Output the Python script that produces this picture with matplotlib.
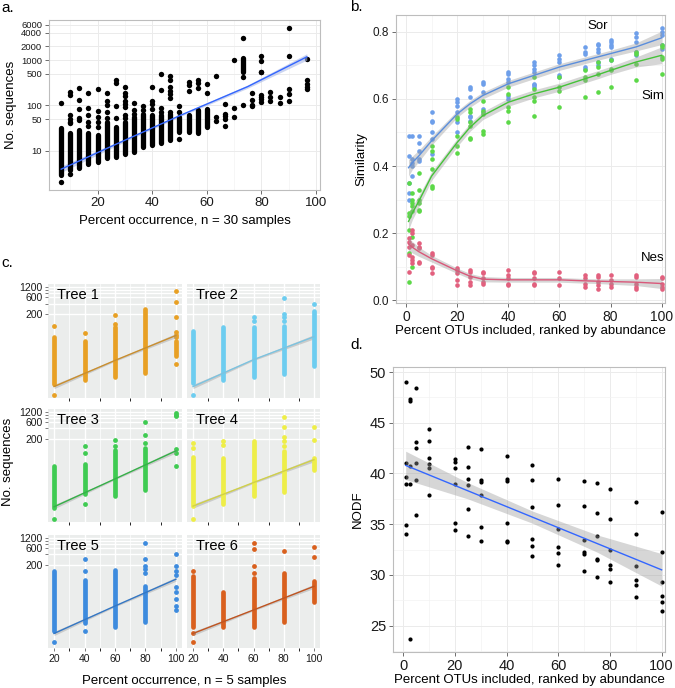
import matplotlib
matplotlib.use("Agg")
import matplotlib.pyplot as plt
import numpy as np
from matplotlib.ticker import NullLocator, MultipleLocator

plt.rcParams['font.family'] = ['Liberation Sans', 'DejaVu Sans']

W, H = 675, 688

# ---------------- panel a: 30 samples ----------------
a_x = [6.67, 10.0, 13.33, 16.67, 20.0, 23.33, 26.67, 30.0, 33.33, 36.67, 40.0, 43.33, 46.67, 50.0,
       53.33, 56.67, 60.0, 63.33, 66.67, 70.0, 73.33, 76.67, 80.0, 83.33, 86.67, 90.0, 96.67]
# dense part of each column (low, high); nan = no dense part
a_lo = [2.9, 3.7, 4.1, 5.0, 5.7, 6.8, 7.4, 8.4, 9.5, 12, 13, 15, 17, 26,
        26, 25, 34, np.nan, np.nan, np.nan, 550, np.nan, np.nan, np.nan, np.nan, np.nan, np.nan]
a_hi = [31, 24, 28, 24, 22, 44, 33, 44, 56, 66, 60, 61, 66, 56,
        61, 79, 82, np.nan, np.nan, np.nan, 1100, np.nan, np.nan, np.nan, np.nan, np.nan, np.nan]
a_extra = [[114, 2.0], [200, 170, 60, 50, 44, 40, 3.0], [237, 130, 82, 52, 48],
           [190, 89, 61, 44, 35], [225, 76, 55, 44, 33], [184, 125, 100, 70, 52],
           [363, 315, 97, 52], [250, 190, 160, 125, 105, 90, 61, 52], [114, 80, 65],
           [97, 80], [257, 128, 110, 85], [490, 218, 86, 72],
           [440, 360, 250, 210, 180, 143, 72], [97, 70, 18], [330, 280, 210],
           [360, 320, 237], [295, 184], [440, 54, 46], [107, 66, 58, 50, 35],
           [1030, 86, 56], [3100, 414, 100], [190, 130, 100, 95],
           [1220, 980, 560, 540, 170, 150, 135, 120], [200, 155, 125], [155, 114],
           [5200, 1220, 225, 180, 125], [1080, 360, 300, 250, 230]]
a_fit_x = [6.67, 30, 50, 75, 96.67]
a_fit_y = [3.9, 17, 59, 260, 1180]
a_fit_se = [0.07, 0.035, 0.025, 0.035, 0.07]   # half width, log10 units
a_yticks = [10, 50, 100, 500, 1000, 2000, 4000, 6000]

# ---------------- panel b: similarity ----------------
b_x = [1, 2.5, 5, 10, 20, 25, 30, 40, 50, 60, 70, 75, 80, 90, 100]
sor_pts = [[0.49, 0.43, 0.35, 0.32, 0.30], [0.49, 0.42, 0.41, 0.40, 0.37],
           [0.49, 0.47, 0.445, 0.42, 0.415], [0.56, 0.535, 0.53, 0.50, 0.48, 0.435],
           [0.60, 0.59, 0.58, 0.56, 0.53, 0.50], [0.635, 0.63, 0.605, 0.55, 0.545, 0.535],
           [0.65, 0.645, 0.62, 0.57, 0.56], [0.68, 0.675, 0.66, 0.65, 0.61, 0.60],
           [0.71, 0.70, 0.69, 0.68, 0.645, 0.64, 0.635], [0.73, 0.72, 0.71, 0.67, 0.665],
           [0.755, 0.74, 0.735, 0.695, 0.69], [0.765, 0.76, 0.75, 0.74, 0.71, 0.70],
           [0.775, 0.77, 0.76, 0.755, 0.72, 0.715], [0.795, 0.785, 0.77, 0.74, 0.73],
           [0.81, 0.80, 0.79, 0.76, 0.75]]
sim_pts = [[0.35, 0.26, 0.25, 0.21, 0.14, 0.055], [0.32, 0.30, 0.29, 0.28, 0.265, 0.19, 0.10],
           [0.38, 0.33, 0.30, 0.29, 0.27, 0.265], [0.46, 0.445, 0.42, 0.39, 0.34, 0.335],
           [0.545, 0.54, 0.49, 0.46, 0.44], [0.57, 0.56, 0.53, 0.52, 0.485, 0.48],
           [0.595, 0.565, 0.555, 0.505, 0.495], [0.635, 0.615, 0.575, 0.565, 0.53],
           [0.665, 0.63, 0.605, 0.595, 0.55], [0.665, 0.635, 0.625, 0.575],
           [0.685, 0.665, 0.655, 0.605], [0.71, 0.695, 0.675, 0.62],
           [0.715, 0.69, 0.685, 0.635], [0.74, 0.735, 0.705, 0.655],
           [0.76, 0.755, 0.725, 0.72, 0.675]]
nes_pts = [[0.185, 0.175, 0.16, 0.135, 0.085], [0.21, 0.20, 0.165, 0.13, 0.12, 0.11],
           [0.17, 0.16, 0.155, 0.115, 0.11], [0.14, 0.135, 0.10, 0.095, 0.08],
           [0.095, 0.09, 0.08, 0.06, 0.045], [0.09, 0.085, 0.07, 0.055, 0.045],
           [0.085, 0.08, 0.065, 0.055, 0.05], [0.09, 0.075, 0.065, 0.05, 0.045],
           [0.085, 0.08, 0.065, 0.05, 0.045], [0.085, 0.065, 0.045],
           [0.075, 0.065, 0.05, 0.04], [0.075, 0.07, 0.055, 0.045, 0.035],
           [0.075, 0.06, 0.05, 0.04], [0.075, 0.07, 0.05, 0.04, 0.035],
           [0.07, 0.065, 0.05, 0.04, 0.035]]
sor_fit = [0.395, 0.41, 0.43, 0.475, 0.555, 0.585, 0.61, 0.645, 0.67, 0.695, 0.715, 0.725, 0.735, 0.755, 0.782]
sim_fit = [0.235, 0.26, 0.295, 0.37, 0.47, 0.515, 0.55, 0.59, 0.615, 0.635, 0.66, 0.672, 0.685, 0.71, 0.73]
nes_fit = [0.168, 0.158, 0.145, 0.124, 0.088, 0.072, 0.063, 0.061, 0.061, 0.061, 0.058, 0.057, 0.056, 0.054, 0.05]
sor_se = [0.025, 0.02, 0.017, 0.013, 0.01, 0.01, 0.01, 0.01, 0.01, 0.01, 0.01, 0.01, 0.01, 0.012, 0.02]
sim_se = [0.025, 0.02, 0.017, 0.013, 0.012, 0.012, 0.012, 0.012, 0.012, 0.012, 0.012, 0.012, 0.012, 0.015, 0.025]
nes_se = [0.02, 0.017, 0.014, 0.01, 0.008, 0.008, 0.008, 0.007, 0.007, 0.007, 0.007, 0.007, 0.008, 0.01, 0.015]

# ---------------- panel c: 5 samples per tree ----------------
c_x = [20, 40, 60, 80, 100]
trees = ['Tree 1', 'Tree 2', 'Tree 3', 'Tree 4', 'Tree 5', 'Tree 6']
tree_cols = ['#E8A024', '#6DCDF0', '#3FCB52', '#EEEE48', '#3D8BDE', '#D9601E']
tree_line = ['#C98E2E', '#7CC3E0', '#35B048', '#D0D04A', '#3477C4', '#BF5420']
c_lo = [[2, 2.6, 3.2, 4.1, 13], [2.2, 2.6, 3.2, 4, 6.7], [2, 5.3, 4.4, 6.6, np.nan],
        [2.3, 2.6, 4.4, 5.8, 25], [2.4, 4.1, 3.3, 4.5, np.nan], [3.3, 3.3, 3.3, 4.5, 17]]
c_hi = [[43, 35, 87, 280, 35], [67, 85, 87, 93, 240], [33, 37, 93, 112, np.nan],
        [60, 57, 175, 90, 57], [130, 75, 144, 49, np.nan], [94, 33, 86, 120, 68]]
c_extra = [
    [[93, 1], [56], [190, 105], [], [890, 430, 165, 63, 50, 45, 7.3]],
    [[1], [], [165, 130], [560, 200, 160, 130], [380]],
    [[1], [127, 76, 2.6], [185, 127], [630, 250, 150], [1100, 1000, 900, 105, 76, 34]],
    [[150, 110, 1], [175, 130], [], [870, 440, 230, 175, 127], [440, 185]],
    [[1.2], [293, 130, 2.4], [], [830, 293, 180, 150, 120], [410, 180, 130, 105, 45, 33, 21, 13, 10]],
    [[130, 2.2, 1.2], [], [830, 560, 180, 120], [510], [640, 335]],
]
c_fit_x = [20, 60, 100]
c_fit_y = [[1.7, 9.5, 49], [1.7, 10, 45], [2.2, 14, 90], [2.3, 11, 50], [2.1, 13, 77], [2.1, 10, 48]]
c_fit_se = [0.06, 0.025, 0.06]

# ---------------- panel d: NODF ----------------
d_x = [1, 2.5, 5, 10, 20, 25, 30, 40, 50, 60, 70, 75, 80, 90, 100]
d_pts = [[49.0, 41.0, 39.7, 39.0, 34.9, 34.0], [47.3, 47.1, 40.7, 39.0, 23.7],
         [48.4, 43.1, 42.5, 41.0, 39.4, 35.9], [44.4, 43.2, 41.5, 40.9, 40.5, 37.9],
         [41.4, 41.1, 40.5, 39.0, 35.1, 34.4], [42.6, 40.6, 39.5, 38.9, 36.5, 33.8],
         [42.4, 39.4, 39.2, 37.9, 34.7, 33.3], [41.7, 39.5, 39.3, 35.1, 33.3, 33.2],
         [40.8, 39.4, 36.7, 33.5, 32.9, 31.9], [39.5, 36.9, 34.5, 32.8, 32.2, 31.0],
         [39.3, 36.8, 33.4, 32.3, 32.1, 30.4], [39.1, 36.1, 33.8, 31.6, 31.5, 29.8],
         [38.5, 35.5, 32.5, 31.0, 30.6, 29.3], [37.2, 34.0, 30.9, 29.5, 29.0, 27.8],
         [36.2, 32.3, 29.3, 27.9, 27.3, 26.4]]
d_fit_x = [1, 25, 50, 75, 100]
d_fit_y = [40.8, 38.3, 35.7, 33.1, 30.5]
d_fit_se = [1.4, 0.8, 0.6, 0.85, 1.6]


def px_axes(l, t, r, b, **kw):
    return fig.add_axes([l / W, 1 - b / H, (r - l) / W, (b - t) / H], **kw)


def bw_style(ax):
    ax.set_facecolor('white')
    ax.grid(True, which='major', color='#EBEBEB', lw=0.7)
    ax.grid(True, which='minor', color='#F3F3F3', lw=0.5)
    ax.set_axisbelow(True)
    for s in ax.spines.values():
        s.set_color('#BDBDBD')
        s.set_linewidth(0.8)
    ax.tick_params(which='major', length=3, width=0.6, color='#555555', colors='#1A1A1A', pad=2)
    ax.tick_params(which='minor', length=0)


def columns(ax, xs, lo, hi, extra, color, lw, s):
    for x, l, h, ex in zip(xs, lo, hi, extra):
        if not np.isnan(l):
            lc = ax.vlines(x, l, h, colors=color, lw=lw)
            lc.set_capstyle('round')
        ax.scatter([x] * len(ex), ex, s=s, color=color, lw=0)


fig = plt.figure(figsize=(W / 100, H / 100), dpi=100)

# ---- a
ax = px_axes(49, 20, 320, 190)
bw_style(ax)
ax.set_yscale('log')
columns(ax, a_x, a_lo, a_hi, a_extra, 'black', 3.8, 15)
fy = np.array(a_fit_y)
se = 10 ** np.array(a_fit_se)
ax.fill_between(a_fit_x, fy / se, fy * se, color='#A9B8E6', alpha=0.6, lw=0)
ax.plot(a_fit_x, a_fit_y, color='#3366FF', lw=1)
ax.set_xlim(2.2, 101.5)
ax.set_ylim(1.35, 7700)
ax.set_yticks(a_yticks)
ax.set_yticklabels([str(v) for v in a_yticks], fontsize=6.8)
ax.yaxis.set_minor_locator(NullLocator())
ax.xaxis.set_minor_locator(MultipleLocator(10))
ax.set_xticks([20, 40, 60, 80, 100])
ax.tick_params(axis='x', labelsize=9.5)
ax.set_xlabel('Percent occurrence, n = 30 samples', fontsize=9.5, labelpad=4)
ax.set_ylabel('No. sequences', fontsize=9.5, labelpad=3)

# ---- b
ax = px_axes(396, 15, 665, 303)
bw_style(ax)
for pts, col in [(sor_pts, '#6E9FEA'), (sim_pts, '#5CD848'), (nes_pts, '#E2607E')]:
    for x, ys in zip(b_x, pts):
        ax.scatter([x] * len(ys), ys, s=11, color=col, lw=0)
for fit, err, col in [(sor_fit, sor_se, '#5B8EDC'), (sim_fit, sim_se, '#45C238'), (nes_fit, nes_se, '#D9587A')]:
    f = np.array(fit)
    e = np.array(err)
    ax.fill_between(b_x, f - e, f + e, color='#999999', alpha=0.4, lw=0)
    ax.plot(b_x, fit, color=col, lw=1)
ax.text(75, 0.818, 'Sor', fontsize=9.5, ha='center', va='center')
ax.text(96.5, 0.61, 'Sim', fontsize=9.5, ha='center', va='center')
ax.text(96.5, 0.127, 'Nes', fontsize=9.5, ha='center', va='center')
ax.set_xlim(-3.9, 101.3)
ax.set_ylim(-0.008, 0.85)
ax.set_xticks([0, 20, 40, 60, 80, 100])
ax.xaxis.set_minor_locator(MultipleLocator(10))
ax.set_yticks([0.0, 0.2, 0.4, 0.6, 0.8])
ax.set_yticklabels(['0.0', '0.2', '0.4', '0.6', '0.8'])
ax.yaxis.set_minor_locator(MultipleLocator(0.1))
ax.tick_params(axis='x', labelsize=10)
ax.tick_params(axis='y', labelsize=8.5)
ax.set_xlabel('Percent OTUs included, ranked by abundance', fontsize=9.5, labelpad=1)
ax.set_ylabel('Similarity', fontsize=9.5, labelpad=4)

# ---- c
col_lr = [(48, 182), (187, 320)]
row_tb = [(284, 398), (409, 522), (535, 648)]
for i, name in enumerate(trees):
    r, c = divmod(i, 2)
    ax = px_axes(col_lr[c][0], row_tb[r][0], col_lr[c][1], row_tb[r][1])
    ax.set_facecolor('#EBEDEC')
    for s in ax.spines.values():
        s.set_visible(False)
    ax.set_yscale('log')
    ax.set_xlim(16, 104)
    ax.set_ylim(0.8, 1450)
    ax.set_xticks(c_x)
    ax.xaxis.set_minor_locator(MultipleLocator(10))
    ax.set_yticks([200, 400, 600, 800, 1000, 1200])
    ax.set_yticklabels(['200', '', '600', '', '', '1200'])
    ax.yaxis.set_minor_locator(NullLocator())
    ax.grid(True, which='major', color='white', lw=1.0)
    ax.grid(True, which='minor', axis='x', color='white', lw=0.5)
    ax.set_axisbelow(True)
    ax.tick_params(length=2.5, width=0.6, color='#666666', colors='#1A1A1A', labelsize=7.5, pad=1.5)
    if c == 1:
        ax.tick_params(axis='y', left=False, labelleft=False)
    if r < 2:
        ax.tick_params(axis='x', bottom=False, labelbottom=False)
    columns(ax, c_x, c_lo[i], c_hi[i], c_extra[i], tree_cols[i], 3.4, 12)
    fy = np.array(c_fit_y[i])
    se = 10 ** np.array(c_fit_se)
    ax.fill_between(c_fit_x, fy / se, fy * se, color='#999999', alpha=0.4, lw=0)
    ax.plot(c_fit_x, c_fit_y[i], color=tree_line[i], lw=1)
    ax.text(0.07, 0.9, name, transform=ax.transAxes, fontsize=10.5, ha='left', va='center')

fig.text(184 / W, 1 - 681 / H, 'Percent occurrence, n = 5 samples', fontsize=9.5, ha='center', va='center')
fig.text(8 / W, 1 - 462 / H, 'No. sequences', fontsize=9.5, ha='center', va='center', rotation=90)

# ---- d
ax = px_axes(393, 367, 665, 652)
bw_style(ax)
for x, ys in zip(d_x, d_pts):
    ax.scatter([x] * len(ys), ys, s=9, color='black', lw=0)
f = np.array(d_fit_y)
e = np.array(d_fit_se)
ax.fill_between(d_fit_x, f - e, f + e, color='#999999', alpha=0.4, lw=0)
ax.plot(d_fit_x, d_fit_y, color='#3366FF', lw=1)
ax.set_xlim(-3.9, 101.3)
ax.set_ylim(22.4, 50.5)
ax.set_xticks([0, 20, 40, 60, 80, 100])
ax.xaxis.set_minor_locator(MultipleLocator(10))
ax.set_yticks([25, 30, 35, 40, 45, 50])
ax.yaxis.set_minor_locator(MultipleLocator(2.5))
ax.tick_params(labelsize=10.5)
ax.set_xlabel('Percent OTUs included, ranked by abundance', fontsize=9.5, labelpad=1)
ax.set_ylabel('NODF', fontsize=9.5, labelpad=4)

# panel letters
for lab, x, y in [('a.', 1, 8), ('b.', 350, 7), ('c.', 1, 263), ('d.', 350, 345)]:
    fig.text(x / W, 1 - y / H, lab, fontsize=11, ha='left', va='center')

fig.savefig('out.png', dpi=100)
